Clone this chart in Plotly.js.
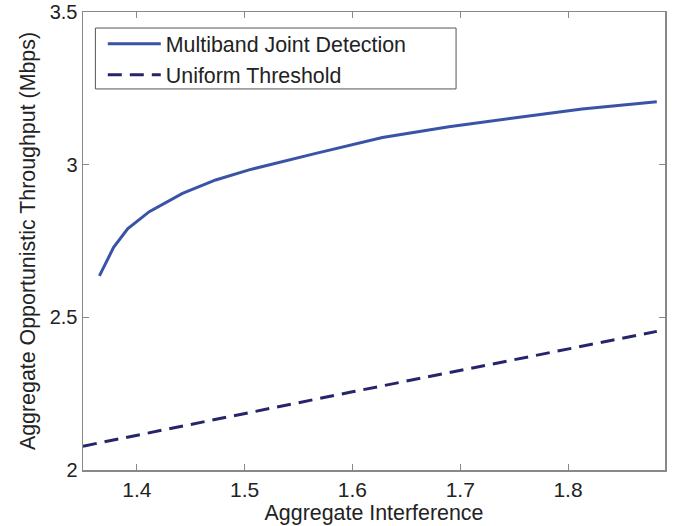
<!DOCTYPE html>
<html>
<head>
<meta charset="utf-8">
<script src="https://cdn.plot.ly/plotly-3.0.1.min.js"></script>
<style>html,body{margin:0;padding:0;background:#fff;}#chart{width:680px;height:526px;}</style>
</head>
<body>
<div id="chart"></div>
<script>
// Multiband Joint Detection (solid)
var mjdX = [1.3652, 1.3784, 1.3914, 1.4115, 1.4423, 1.4731, 1.5041, 1.5349, 1.5661, 1.6278, 1.6895, 1.7513, 1.8130, 1.8824];
var mjdY = [2.636, 2.729, 2.790, 2.846, 2.906, 2.950, 2.983, 3.010, 3.037, 3.089, 3.124, 3.154, 3.182, 3.206];
// Uniform Threshold (dashed)
var utX = [1.35, 1.6, 1.8824];
var utY = [2.078, 2.256, 2.454];

var xTicks = [1.4, 1.5, 1.6, 1.7, 1.8];
var yTicks = [2, 2.5, 3, 3.5];
var xTickText = ['1.4', '1.5', '1.6', '1.7', '1.8'];
var yTickText = ['2', '2.5', '3', '3.5'];

var fontFam = 'Liberation Sans, Arial, Helvetica, sans-serif';
var axisColor = '#888888';
var textColor = '#222222';

var traces = [
  {x: mjdX, y: mjdY, mode: 'lines', name: 'Multiband Joint Detection',
   line: {color: '#3a53a6', width: 3}},
  {x: utX, y: utY, mode: 'lines', name: 'Uniform Threshold',
   line: {color: '#26256b', width: 3, dash: '14px,8px'}}
];

var layout = {
  width: 680, height: 526,
  margin: {l: 83, r: 15, t: 12, b: 56},
  paper_bgcolor: '#fff', plot_bgcolor: '#fff',
  font: {family: fontFam, size: 21, color: textColor},
  showlegend: true,
  legend: {x: 0.034, y: 0.975, xanchor: 'left', yanchor: 'top',
           bgcolor: 'rgba(0,0,0,0)', borderwidth: 0,
           font: {family: fontFam, size: 21.4, color: textColor},
           itemwidth: 53, tracegroupgap: 0},
  shapes: [{type: 'rect', xref: 'paper', yref: 'paper',
            x0: 0.0213, x1: 0.641, y0: 0.832, y1: 0.965,
            line: {color: '#555', width: 1}, fillcolor: '#fff', layer: 'below'}],
  xaxis: {range: [1.35, 1.89], tickvals: xTicks, ticktext: xTickText,
          ticks: 'inside', ticklen: 6, tickcolor: axisColor, tickwidth: 1,
          showline: true, linecolor: axisColor, linewidth: 1.5, mirror: 'ticks',
          showgrid: false, zeroline: false, ticklabeloverflow: 'allow',
          tickfont: {size: 21, color: textColor},
          title: {text: 'Aggregate Interference', standoff: 4, font: {size: 21.4, color: textColor}}},
  yaxis: {range: [1.9999, 3.5001], tickvals: yTicks, ticktext: yTickText,
          ticks: 'inside', ticklen: 6, tickcolor: axisColor, tickwidth: 1,
          showline: true, linecolor: axisColor, linewidth: 1.5, mirror: 'ticks',
          showgrid: false, zeroline: false, ticklabeloverflow: 'allow',
          tickfont: {size: 20, color: textColor},
          title: {text: 'Aggregate Opportunistic Throughput (Mbps)', standoff: 8, font: {size: 21.4, color: textColor}}}
};

Plotly.newPlot('chart', traces, layout, {displayModeBar: false, staticPlot: true});
</script>
</body>
</html>
